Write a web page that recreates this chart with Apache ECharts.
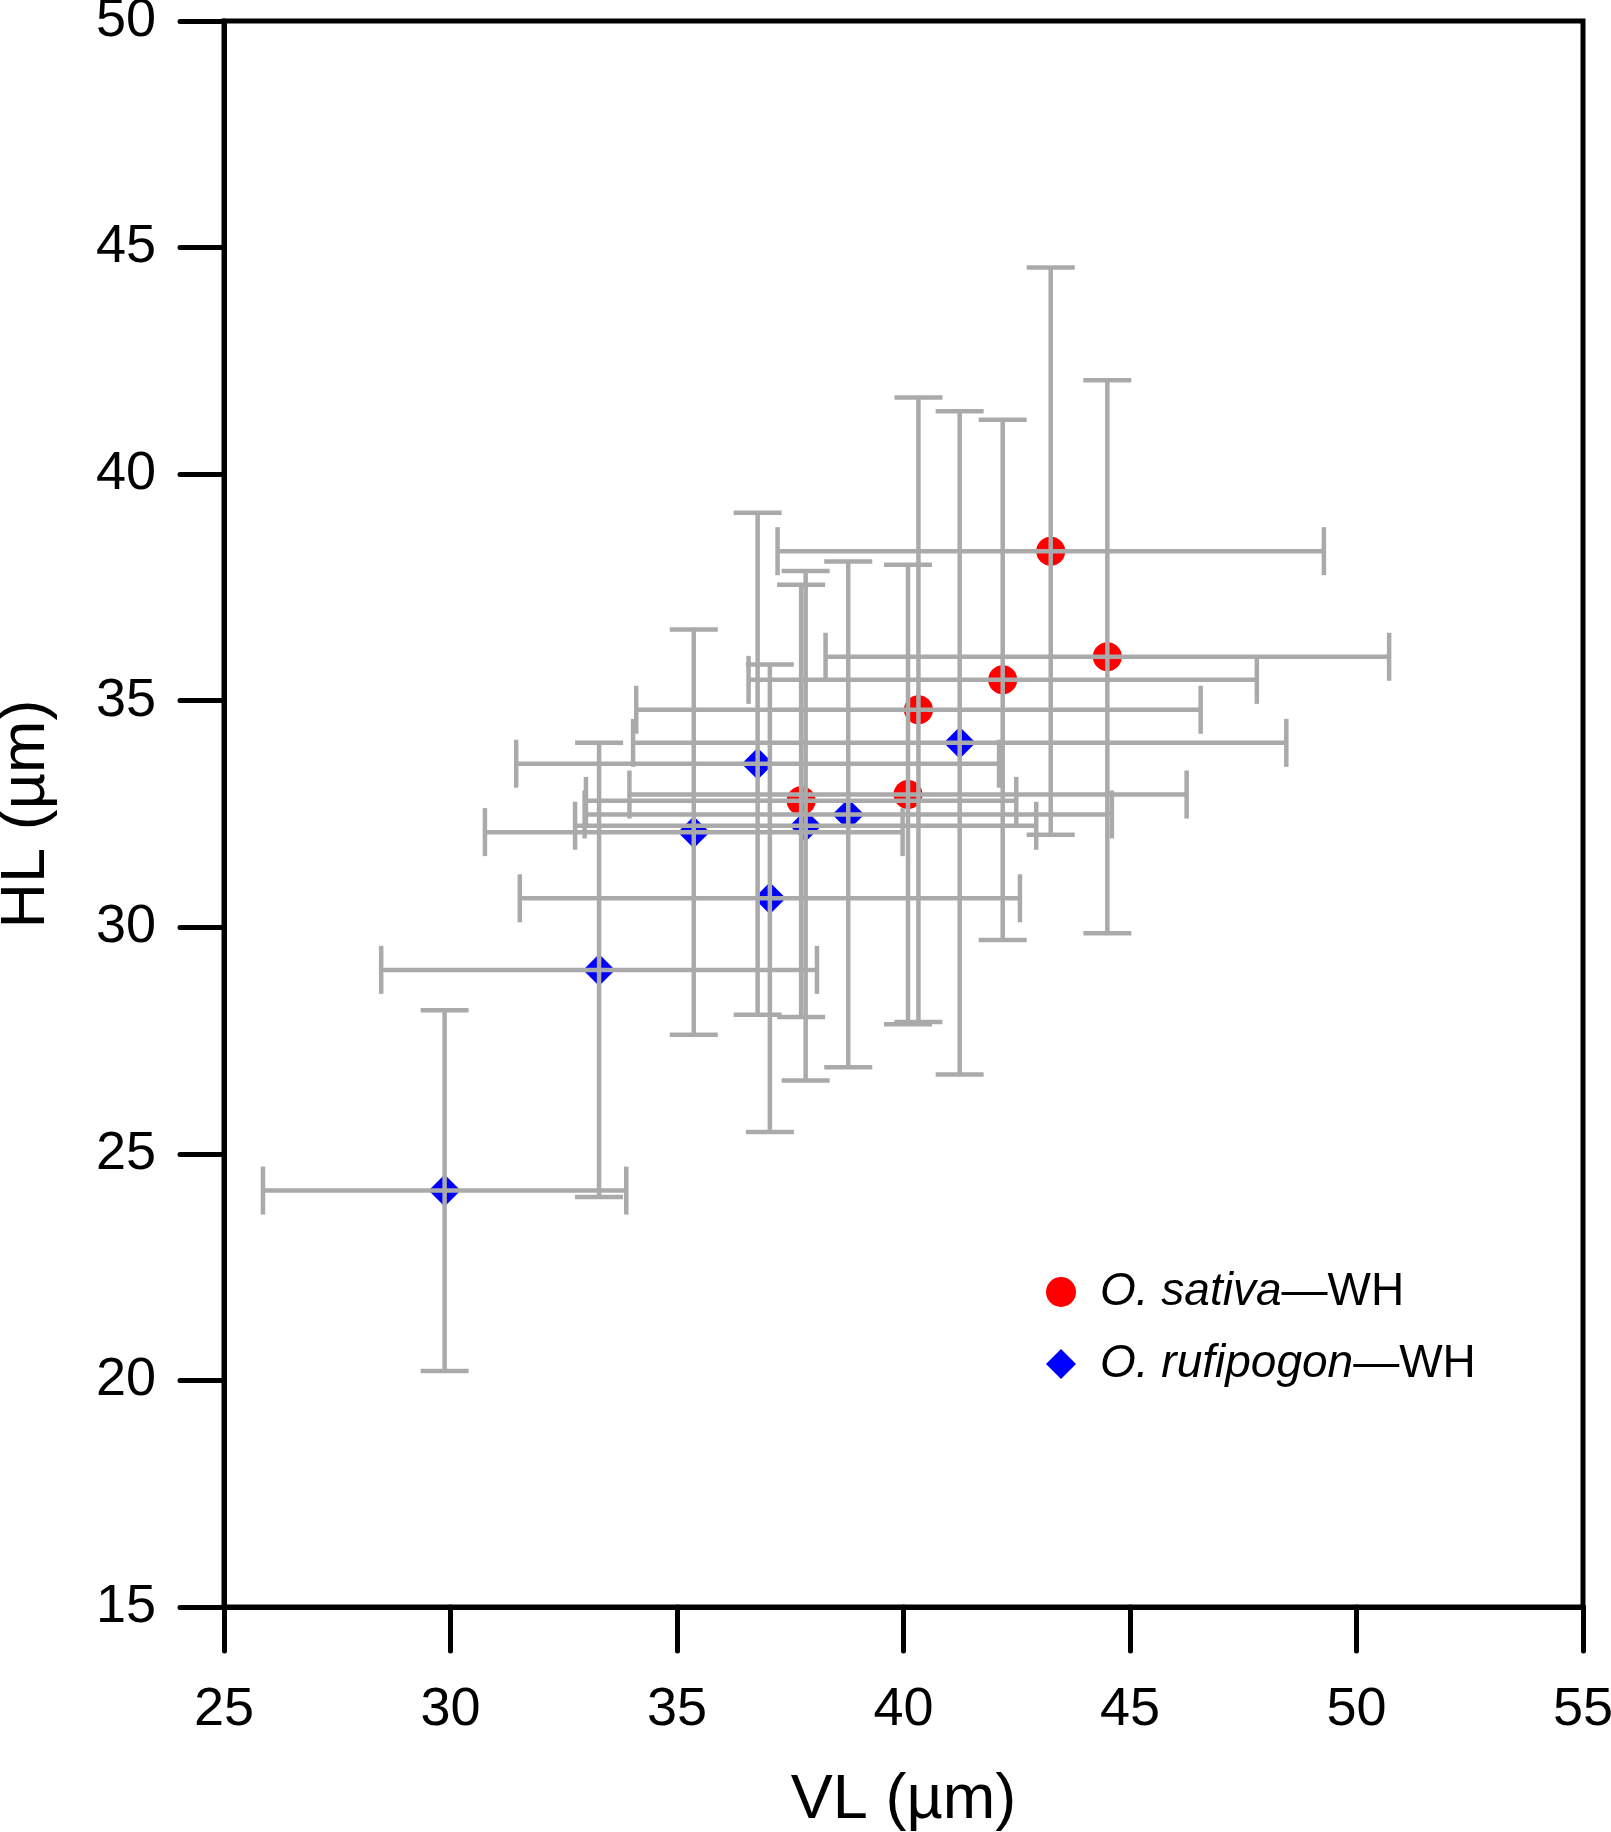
<!DOCTYPE html>
<html>
<head>
<meta charset="utf-8">
<script src="https://cdn.jsdelivr.net/npm/echarts@6/dist/echarts.min.js"></script>
<style>
  html, body { margin: 0; padding: 0; background: #fff; }
  #chart { width: 1611px; height: 1832px; }
</style>
</head>
<body>
<div id="chart"></div>
<script>
// O. sativa - WH : mean and SD
const sativaVL   = [43.25, 44.50, 42.19, 40.33, 40.10, 37.74];
const sativaHL   = [38.30, 35.97, 35.46, 34.80, 32.93, 32.79];
const sativaVLsd = [6.03, 6.22, 5.61, 6.23, 6.15, 4.75];
const sativaHLsd = [6.26, 6.10, 5.74, 6.89, 5.07, 4.77];

// O. rufipogon - WH : mean and SD
const rufiVL   = [36.78, 41.24, 38.78, 37.84, 35.37, 37.05, 33.28, 29.87];
const rufiHL   = [33.61, 34.07, 32.49, 32.24, 32.10, 30.64, 29.06, 24.19];
const rufiVLsd = [5.33, 7.21, 5.82, 5.09, 4.61, 5.52, 4.81, 4.01];
const rufiHLsd = [5.54, 7.32, 5.58, 5.62, 4.47, 5.16, 5.01, 3.98];

const seriesNames = ['O. sativa—WH', 'O. rufipogon—WH'];
const xTicks = [25, 30, 35, 40, 45, 50, 55];
const yTicks = [15, 20, 25, 30, 35, 40, 45, 50];

const font = 'Liberation Sans, Arial, sans-serif';

function points(vl, hl) {
  return vl.map((v, i) => [v, hl[i]]);
}
function errRows(vl, hl, vsd, hsd) {
  return vl.map((v, i) => [v, hl[i], vsd[i], hsd[i]]);
}

// error bars: one cross with four caps per point
function renderErr(params, api) {
  const x = api.value(0), y = api.value(1), sx = api.value(2), sy = api.value(3);
  const c = api.coord([x, y]);
  const l = api.coord([x - sx, y]), r = api.coord([x + sx, y]);
  const t = api.coord([x, y + sy]), b = api.coord([x, y - sy]);
  const cap = 24;
  const style = { stroke: '#aaaaaa', lineWidth: 4.5 };
  const line = (x1, y1, x2, y2) => ({ type: 'line', shape: { x1, y1, x2, y2 }, style });
  return {
    type: 'group',
    children: [
      line(l[0], c[1], r[0], c[1]),
      line(c[0], t[1], c[0], b[1]),
      line(l[0], c[1] - cap, l[0], c[1] + cap),
      line(r[0], c[1] - cap, r[0], c[1] + cap),
      line(c[0] - cap, t[1], c[0] + cap, t[1]),
      line(c[0] - cap, b[1], c[0] + cap, b[1])
    ]
  };
}

const chart = echarts.init(document.getElementById('chart'));

const axisCommon = {
  type: 'value',
  splitLine: { show: false },
  axisLine: { show: true, lineStyle: { color: '#000', width: 5 } },
  axisTick: { show: true, inside: false, length: 44, lineStyle: { color: '#000', width: 5, cap: 'round' } },
  axisLabel: { color: '#000', fontSize: 54, fontFamily: font },
  nameTextStyle: { color: '#000', fontSize: 63, fontFamily: font }
};

chart.setOption({
  animation: false,
  backgroundColor: '#fff',
  grid: {
    left: 224, right: 28, top: 21, bottom: 225,
    outerBoundsMode: 'none', containLabel: false,
    show: true, borderColor: '#000', borderWidth: 5
  },
  xAxis: Object.assign({}, axisCommon, {
    min: xTicks[0], max: xTicks[xTicks.length - 1], interval: 5,
    name: 'VL (µm)', nameLocation: 'middle', nameGap: 162,
    axisLabel: Object.assign({}, axisCommon.axisLabel, { margin: 76 })
  }),
  yAxis: Object.assign({}, axisCommon, {
    min: yTicks[0], max: yTicks[yTicks.length - 1], interval: 5,
    name: 'HL (µm)', nameLocation: 'middle', nameGap: 166,
    axisLabel: Object.assign({}, axisCommon.axisLabel, { margin: 68 })
  }),
  legend: {
    orient: 'vertical',
    left: 1041, top: 1264,
    itemWidth: 30, itemHeight: 30, itemGap: 26,
    data: [
      { name: seriesNames[0], icon: 'circle' },
      { name: seriesNames[1], icon: 'diamond' }
    ],
    formatter: function (name) {
      const parts = name.split('—');
      return '{i|' + parts[0] + '}{n|—' + parts[1] + '}';
    },
    textStyle: {
      padding: [0, 0, 0, 19],
      rich: {
        i: { fontSize: 46, fontStyle: 'italic', fontFamily: font, color: '#000', lineHeight: 56 },
        n: { fontSize: 46, fontFamily: font, color: '#000', lineHeight: 56 }
      }
    }
  },
  series: [
    {
      name: seriesNames[0], type: 'scatter', symbol: 'circle', symbolSize: 29,
      itemStyle: { color: '#ff0000', opacity: 1 }, z: 2,
      data: points(sativaVL, sativaHL)
    },
    {
      name: seriesNames[1], type: 'scatter', symbol: 'diamond', symbolSize: 32,
      itemStyle: { color: '#0000ff', opacity: 1 }, z: 2,
      data: points(rufiVL, rufiHL)
    },
    {
      name: 'sativa-err', type: 'custom', renderItem: renderErr, z: 3, silent: true,
      encode: { x: 0, y: 1 },
      data: errRows(sativaVL, sativaHL, sativaVLsd, sativaHLsd)
    },
    {
      name: 'rufi-err', type: 'custom', renderItem: renderErr, z: 3, silent: true,
      encode: { x: 0, y: 1 },
      data: errRows(rufiVL, rufiHL, rufiVLsd, rufiHLsd)
    }
  ]
});
</script>
</body>
</html>
